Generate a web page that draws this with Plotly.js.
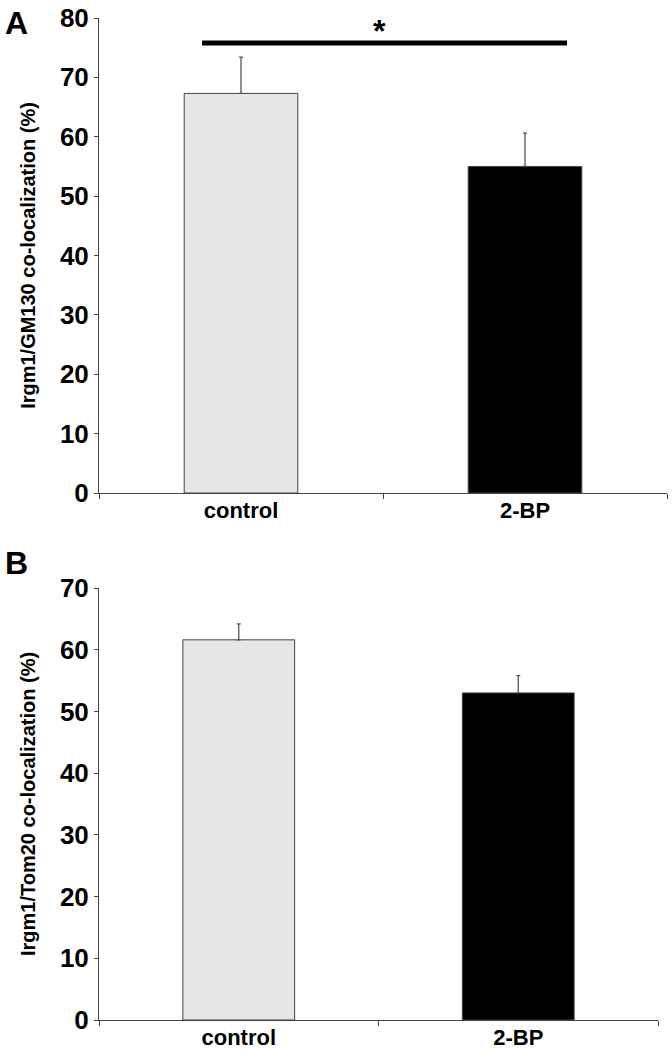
<!DOCTYPE html>
<html>
<head>
<meta charset="utf-8">
<script src="https://cdn.plot.ly/plotly-3.0.1.min.js"></script>
<style>html,body{margin:0;padding:0;background:#fff;}#chart{width:672px;height:1049px;}</style>
</head>
<body>
<div id="chart"></div>
<script>
// ---- data ----
const categories = ["control", "2-BP"];
const golgiValues = [67.3, 55.0];      // panel A: Irgm1/GM130 co-localization (%)
const golgiErrors = [6.1, 5.6];
const mitoValues = [61.6, 53.0];       // panel B: Irgm1/Tom20 co-localization (%)
const mitoErrors = [2.6, 2.8];
const barColors = ["#e6e6e6", "#000000"];
const sigLevel = 75.8;                 // significance bracket height in panel A
const sigLabel = "*";
const yTicksA = [0, 10, 20, 30, 40, 50, 60, 70, 80];
const yTicksB = [0, 10, 20, 30, 40, 50, 60, 70];

const W = 672, H = 1049;
const FONT = "Liberation Sans, Arial, sans-serif";
const px = v => v / W;
const py = v => 1 - v / H;

const errStyle = {type: "data", symmetric: false, color: "#555", thickness: 1.3, width: 2};

const traces = [
  {type: "bar", x: categories, y: golgiValues, xaxis: "x", yaxis: "y", width: 0.4,
   marker: {color: barColors, line: {color: "#444", width: 1}},
   error_y: Object.assign({array: golgiErrors, arrayminus: [0, 0]}, errStyle),
   showlegend: false, hoverinfo: "skip"},
  {type: "bar", x: categories, y: mitoValues, xaxis: "x2", yaxis: "y2", width: 0.4,
   marker: {color: barColors, line: {color: "#444", width: 1}},
   error_y: Object.assign({array: mitoErrors, arrayminus: [0, 0]}, errStyle),
   showlegend: false, hoverinfo: "skip"}
];

const xCommon = {
  type: "category", range: [-0.5, 1.5], showline: true, linecolor: "#444", linewidth: 1,
  ticks: "outside", tickson: "boundaries", ticklen: 5, tickcolor: "#444",
  ticklabelstandoff: -2,
  showgrid: false, zeroline: false, fixedrange: true,
  tickfont: {family: FONT, size: 22, color: "#000", weight: "bold"}
};
const yCommon = {
  showline: true, linecolor: "#444", linewidth: 1, ticks: "outside", ticklen: 4, tickcolor: "#444",
  showgrid: false, zeroline: false, fixedrange: true,
  tickfont: {family: FONT, size: 26, color: "#000", weight: "bold"}
};

const layout = {
  width: W, height: H,
  margin: {l: 0, r: 0, t: 0, b: 0},
  paper_bgcolor: "#fff", plot_bgcolor: "#fff",
  bargap: 0.6,
  xaxis: Object.assign({}, xCommon, {domain: [px(99), px(667)], anchor: "y"}),
  yaxis: Object.assign({}, yCommon, {domain: [py(493), py(18)], anchor: "x", range: [0, 80],
    tickvals: yTicksA,
    title: {text: "Irgm1/GM130 co-localization (%)", standoff: 18,
            font: {family: FONT, size: 20, color: "#000", weight: "bold"}}}),
  xaxis2: Object.assign({}, xCommon, {domain: [px(99), px(658)], anchor: "y2"}),
  yaxis2: Object.assign({}, yCommon, {domain: [py(1020), py(588)], anchor: "x2", range: [0, 70],
    tickvals: yTicksB,
    title: {text: "Irgm1/Tom20 co-localization (%)", standoff: 18,
            font: {family: FONT, size: 20, color: "#000", weight: "bold"}}}),
  shapes: [
    {type: "line", xref: "x", yref: "y", x0: -0.137, x1: 1.148, y0: sigLevel, y1: sigLevel,
     line: {color: "#000", width: 5}}
  ],
  annotations: [
    {xref: "x", yref: "y", x: 0.486, y: sigLevel, text: sigLabel, showarrow: false,
     yanchor: "bottom", yshift: -8, font: {family: FONT, size: 32, color: "#000", weight: "bold"}},
    {xref: "paper", yref: "paper", x: px(3), y: py(3), xanchor: "left", yanchor: "top",
     text: "A", showarrow: false, font: {family: FONT, size: 32, color: "#000", weight: "bold"}},
    {xref: "paper", yref: "paper", x: px(3), y: py(543), xanchor: "left", yanchor: "top",
     text: "B", showarrow: false, font: {family: FONT, size: 32, color: "#000", weight: "bold"}}
  ]
};

Plotly.newPlot("chart", traces, layout, {staticPlot: true, displayModeBar: false});
</script>
</body>
</html>
